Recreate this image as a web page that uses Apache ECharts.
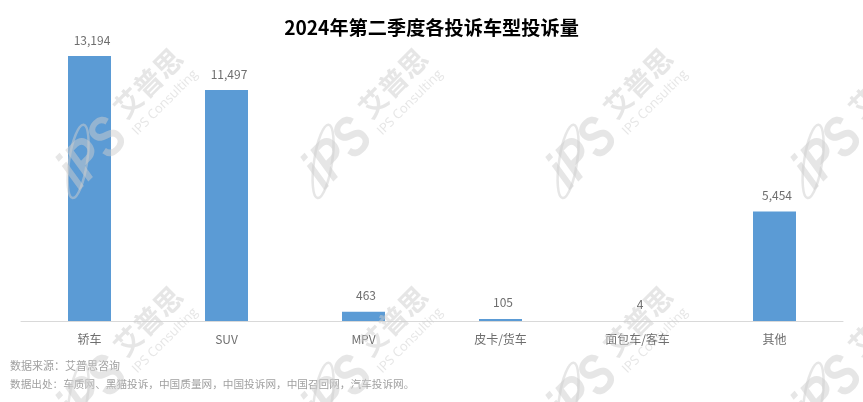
<!DOCTYPE html>
<html><head><meta charset="utf-8">
<style>html,body{margin:0;padding:0;background:#fff}#c{width:863px;height:402px}</style>
<script src="https://cdn.jsdelivr.net/npm/echarts@6/dist/echarts.min.js"></script>
</head><body><div id="c"></div>
<script>
const chartTitle = '2024年第二季度各投诉车型投诉量';
const categories = ['轿车','SUV','MPV','皮卡/货车','面包车/客车','其他'];
const complaintCounts = [13194,11497,463,105,4,5454];
const sourceLines = ['数据来源：艾普思咨询','数据出处：车质网、黑猫投诉，中国质量网，中国投诉网，中国召回网，汽车投诉网。'];
const sourceFontSizes = [11,10.65];
const watermarkX = [88,333,578,823];
const watermarkY = [160,398];
const font = '"Noto Sans CJK SC","Noto Sans",sans-serif';
const wmFill = 'rgba(205,205,205,0.5)';

function watermark(x,y){
  return {type:'group',x:x,y:y,rotation:Math.PI/4,silent:true,z:50,children:[
    {type:'text',x:8,y:0,scaleX:0.8,z:50,style:{text:'iPS',fill:wmFill,font:'italic bold 56px "Liberation Sans"',align:'center',verticalAlign:'middle'}},
    {type:'ellipse',x:-8,y:-6,rotation:-Math.PI/4-0.15,z:50,shape:{cx:0,cy:0,rx:9,ry:37},style:{fill:'none',stroke:wmFill,lineWidth:2.5}},
    {type:'text',x:97,y:-12,z:50,style:{text:'艾普思',fill:wmFill,font:'bold 28px '+font,align:'center',verticalAlign:'middle'}},
    {type:'text',x:95,y:14,z:50,style:{text:'IPS Consulting',fill:wmFill,font:'13px "Open Sans"',align:'center',verticalAlign:'middle'}}
  ]};
}
const graphics = [];
watermarkY.forEach(y=>watermarkX.forEach(x=>graphics.push(watermark(x,y))));
sourceLines.forEach((t,i)=>graphics.push({type:'text',x:10,y:366+i*18,z:10,silent:true,
  style:{text:t,fill:'#a0a0a0',font:sourceFontSizes[i]+'px '+font,verticalAlign:'middle'}}));

const chart = echarts.init(document.getElementById('c'),null,{renderer:'canvas'});
chart.setOption({
  animation:false,
  backgroundColor:'#fff',
  title:{text:chartTitle,left:'center',top:13,itemGap:0,
    textStyle:{color:'#000',fontSize:19.2,fontWeight:'bold',fontFamily:font}},
  grid:{left:21,right:20,top:30,bottom:81},
  xAxis:{type:'category',data:categories,
    axisLine:{lineStyle:{color:'#d9d9d9',width:1}},axisTick:{show:false},
    axisLabel:{color:'#6e6e6e',fontSize:12,fontFamily:font,margin:12}},
  yAxis:{type:'value',min:0,max:14489,show:false,splitLine:{show:false}},
  series:[{type:'bar',data:complaintCounts,barWidth:43,
    itemStyle:{color:'#5B9BD5'},
    label:{show:true,position:'top',distance:10,offset:[2.5,0],color:'#6e6e6e',fontSize:12,fontFamily:font,
      formatter:p=>p.value.toLocaleString('en-US')}}],
  graphic:{elements:graphics}
});
</script></body></html>
